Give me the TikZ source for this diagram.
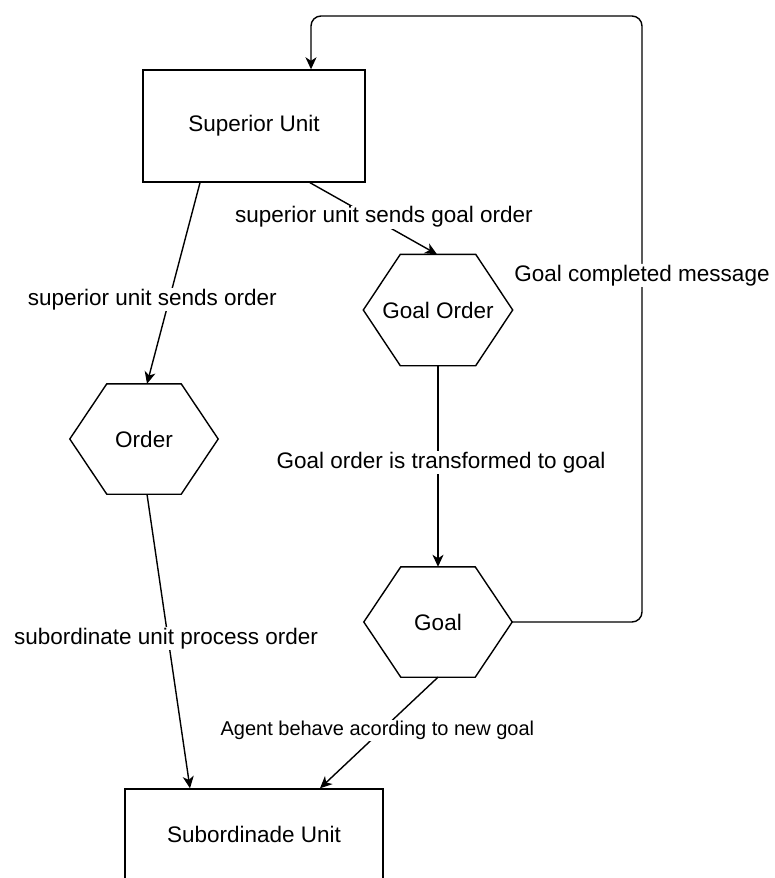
\documentclass[tikz,border=0pt]{standalone}
\usepackage{fontspec}
\setmainfont{Liberation Sans}
\usetikzlibrary{arrows.meta}
\begin{document}
\begin{tikzpicture}[x=1pt,y=-1pt,
  stroke/.style={line width=1.4pt, draw=black},
  unit/.style={stroke, rectangle, inner sep=0pt, font=\fontsize{22.5}{27}\selectfont},
  hexa/.style={rectangle, minimum width=148pt, minimum height=110pt, inner sep=0pt,
    font=\fontsize{22.5}{27}\selectfont},
  arr/.style={stroke, -{Stealth[length=12pt, width=11pt, inset=3.5pt]}},
  lbl/.style={fill=white, inner sep=1pt, font=\fontsize{22.5}{27}\selectfont},
  lblsmall/.style={lbl, font=\fontsize{20}{24}\selectfont}]

\path[use as bounding box] (0,0) rectangle (775,878);
\clip (0,0) rectangle (775,878);

% units and orders
\node[unit, minimum width=222pt, minimum height=112pt] (sup) at (254,126) {Superior Unit};
\node[hexa] (ord)  at (144,439) {Order};
\node[hexa, minimum width=149pt, minimum height=111pt] (gord) at (438,310) {Goal Order};
\node[hexa] (goal) at (438,622) {Goal};
\node[unit, minimum width=258pt, minimum height=90pt] (sub) at (254,834) {Subordinade Unit};

% hexagon outlines around the order nodes
\foreach \h in {ord,gord,goal}
  \draw[stroke, line join=miter] (\h.west) -- ([xshift=37pt]\h.north west)
    -- ([xshift=-37pt]\h.north east) -- (\h.east)
    -- ([xshift=-37pt]\h.south east) -- ([xshift=37pt]\h.south west) -- cycle;

% message flow
\draw[arr] ([xshift=-54pt]sup.south) --
  node[lbl, pos=0.58, xshift=-17pt] {superior unit sends order} ([xshift=3pt]ord.north);
\draw[arr] ([xshift=56pt]sup.south) --
  node[lbl, pos=0.48, xshift=13pt] {superior unit sends goal order} ([xshift=-1pt]gord.north);
\draw[arr] (gord.south) --
  node[lbl, pos=0.48, xshift=3pt] {Goal order is transformed to goal} (goal.north);
\draw[arr] ([xshift=3pt]ord.south) --
  node[lbl, pos=0.49, xshift=-2pt] {subordinate unit process order} ([xshift=-64pt]sub.north);
\draw[arr] (goal.south) --
  node[lblsmall, pos=0.48, xshift=-4pt] {Agent behave acording to new goal} ([xshift=66pt]sub.north);

% feedback loop back to the superior unit
\coordinate (loopTR) at (642,16);
\draw[arr, rounded corners=10pt] (goal.east) -|
  node[lbl, pos=0.786] {Goal completed message} (loopTR) -| ([xshift=57pt]sup.north);

\end{tikzpicture}
\end{document}
